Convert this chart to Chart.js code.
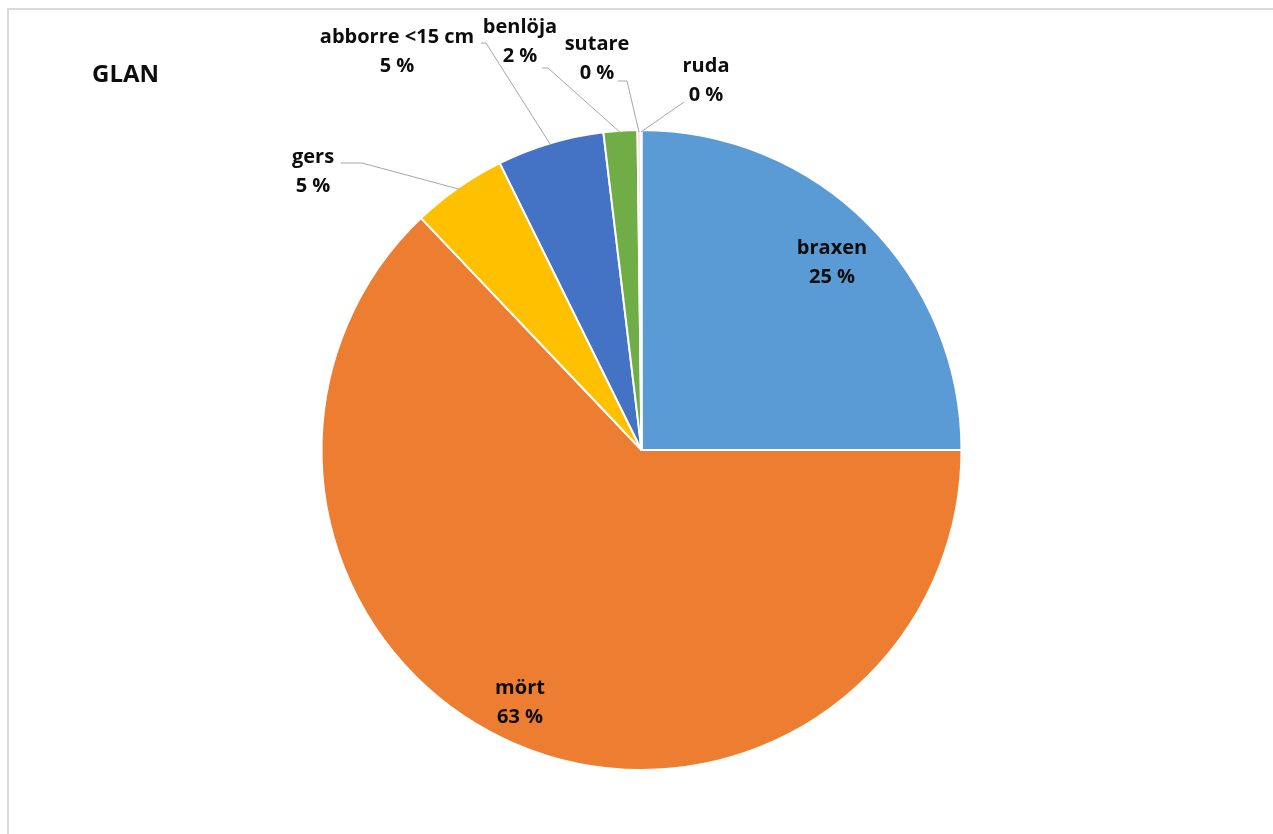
<!DOCTYPE html>
<html>
<head>
<meta charset="utf-8">
<script src="https://cdn.jsdelivr.net/npm/chart.js@4"></script>
<style>
  html, body { margin: 0; padding: 0; background: #fff; overflow: hidden; }
  .frame { position: absolute; left: 7px; top: 8px; width: 1300px; height: 900px;
           border-top: 2px solid #d9d9d9; border-left: 2px solid #d9d9d9; }
  .wrap { position: absolute; left: 0; top: 0; width: 1273px; height: 834px; }
</style>
</head>
<body>
<div class="frame"></div>
<div class="wrap"><canvas id="myChart" width="1273" height="834"></canvas></div>
<script>
const categories = ['braxen', 'mört', 'gers', 'abborre <15 cm', 'benlöja', 'sutare', 'ruda'];
const shares = [25.0, 62.9, 4.8, 5.4, 1.7, 0.15, 0.05];
const sliceColors = ['#5B9BD5', '#ED7D31', '#FFC000', '#4472C4', '#70AD47', '#F4B6A0', '#C9C9C9'];
const chartTitle = 'GLAN';

// where each label sits (text centre of first line) and if it gets a leader line
const labelPlacement = [
    { x: 832, y: 248, leader: null },
    { x: 520, y: 688, leader: null },
    { x: 313, y: 157, leader: { from: [341, 163], knee: [362, 163] } },
    { x: 397, y: 37, leader: { from: [481, 43], knee: [486, 43] } },
    { x: 520, y: 27, leader: { from: [542, 68], knee: [548, 68] } },
    { x: 597, y: 44, leader: { from: [618, 81], knee: [627, 81] } },
    { x: 706, y: 66, leader: { from: [684, 102], knee: [684, 102] } },
];

const labelPlugin = {
    id: 'pieLabels',
    afterDraw(chart) {
        const ctx = chart.ctx;
        const meta = chart.getDatasetMeta(0);
        ctx.save();
        ctx.font = 'bold 20px "Open Sans", "Noto Sans", sans-serif';
        ctx.textAlign = 'center';
        ctx.textBaseline = 'middle';
        meta.data.forEach((arc, i) => {
            const p = labelPlacement[i];
            const lead = p.leader;
            if (lead) {
                const mid = (arc.startAngle + arc.endAngle) / 2;
                const ex = arc.x + Math.cos(mid) * (arc.outerRadius - 2);
                const ey = arc.y + Math.sin(mid) * (arc.outerRadius - 2);
                ctx.strokeStyle = '#a6a6a6';
                ctx.lineWidth = 1;
                ctx.beginPath();
                ctx.moveTo(lead.from[0], lead.from[1]);
                ctx.lineTo(lead.knee[0], lead.knee[1]);
                ctx.lineTo(ex, ey);
                ctx.stroke();
            }
            ctx.fillStyle = '#0d0d0d';
            ctx.fillText(categories[i], p.x, p.y);
            ctx.fillText(Math.round(shares[i]) + ' %', p.x, p.y + 29);
        });
        ctx.font = 'bold 24px "Open Sans", "Noto Sans", sans-serif';
        ctx.textAlign = 'left';
        ctx.fillText(chartTitle, 92, 75);
        ctx.restore();
    }
};

new Chart(document.getElementById('myChart').getContext('2d'), {
    type: 'pie',
    data: {
        labels: categories,
        datasets: [{
            data: shares,
            backgroundColor: sliceColors,
            borderColor: '#ffffff',
            borderWidth: 2,
        }],
    },
    options: {
        responsive: false,
        animation: false,
        layout: { padding: { top: 129, bottom: 63, left: 320, right: 310 } },
        plugins: {
            legend: { display: false },
            tooltip: { enabled: false },
        },
    },
    plugins: [labelPlugin],
});
</script>
</body>
</html>
